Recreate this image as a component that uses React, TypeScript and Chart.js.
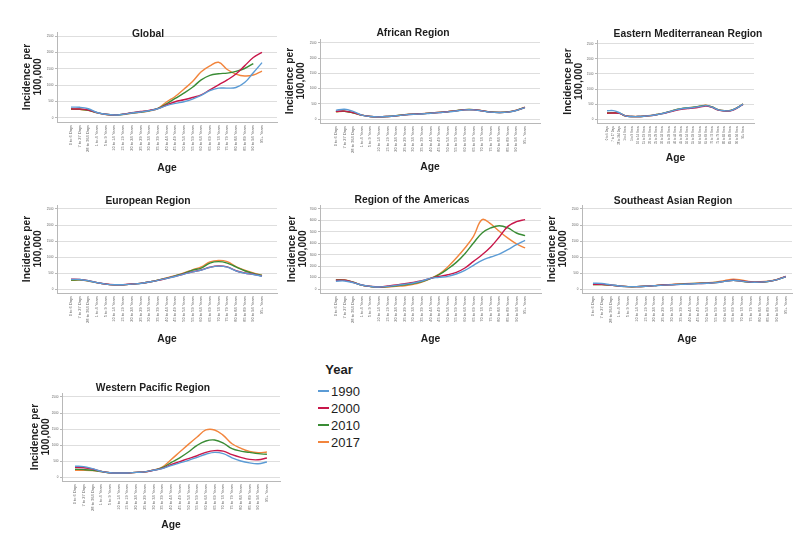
import React, { useEffect, useRef } from 'react';
import { Chart, registerables } from 'chart.js';

Chart.register(...registerables);

// ---------------- DATA ----------------
const ageGroups = [
  '0 to 6 Days', '7 to 27 Days', '28 to 364 Days', '1 to 4 Years', '5 to 9 Years',
  '10 to 14 Years', '15 to 19 Years', '20 to 24 Years', '25 to 29 Years', '30 to 34 Years',
  '35 to 39 Years', '40 to 44 Years', '45 to 49 Years', '50 to 54 Years', '55 to 59 Years',
  '60 to 64 Years', '65 to 69 Years', '70 to 74 Years', '75 to 79 Years', '80 to 84 Years',
  '85 to 89 Years', '90 to 94 Years', '95+ Years',
];
const years = ['1990', '2000', '2010', '2017'];

const yTicksStandard = [0, 500, 1000, 1500, 2000, 2500];
const yTicksAmericas = [0, 500, 1000, 1500, 2000, 2500, 3000, 3500, 4000, 4500, 5000, 5500, 6000, 6500, 7000];

const global1990 = [330, 325, 280, 165, 110, 90, 110, 150, 180, 220, 280, 375, 445, 495, 575, 685, 835, 910, 910, 930, 1080, 1380, 1690];
const global2000 = [275, 270, 240, 160, 110, 90, 115, 160, 195, 230, 285, 395, 495, 555, 625, 705, 857, 1010, 1160, 1340, 1590, 1845, 2000];
const global2010 = [270, 265, 235, 160, 110, 90, 110, 150, 180, 220, 290, 430, 595, 756, 937, 1160, 1300, 1350, 1370, 1420, 1510, 1660, null];
const global2017 = [265, 260, 230, 155, 105, 88, 105, 140, 170, 210, 285, 485, 655, 877, 1110, 1410, 1590, 1700, 1480, 1340, 1280, 1310, 1430];

const african1990 = [290, 325, 255, 135, 88, 77, 88, 110, 140, 160, 172, 195, 215, 238, 270, 305, 305, 272, 230, 218, 230, 285, 380];
const african2000 = [255, 265, 215, 133, 88, 77, 88, 110, 142, 163, 175, 198, 220, 242, 275, 308, 308, 275, 232, 220, 232, 288, 385];
const african2010 = [250, 260, 212, 132, 87, 77, 88, 112, 144, 166, 177, 200, 222, 244, 278, 312, 312, 277, 233, 221, 233, 290, 388];
const african2017 = [245, 255, 210, 132, 87, 78, 90, 114, 146, 168, 180, 202, 224, 246, 280, 314, 314, 279, 235, 223, 235, 292, 390];

const emr1990 = [280, 285, 215, 110, 90, 88, 98, 118, 150, 190, 245, 300, 345, 370, 390, 420, 450, 400, 310, 280, 285, 370, 500];
const emr2000 = [200, 205, 195, 108, 90, 88, 98, 118, 150, 185, 235, 285, 325, 350, 370, 400, 435, 390, 300, 270, 280, 365, 495];
const emr2010 = [205, 210, 200, 110, 90, 88, 100, 120, 155, 192, 248, 305, 348, 375, 395, 428, 458, 405, 312, 282, 290, 375, 505];
const emr2017 = [210, 215, 200, 110, 92, 90, 102, 122, 158, 195, 250, 310, 352, 380, 400, 432, 462, 410, 315, 285, 292, 378, 510];

const europe1990 = [300, 298, 258, 198, 153, 133, 133, 153, 173, 218, 268, 328, 392, 465, 535, 590, 675, 715, 685, 565, 495, 455, 400];
const europe2000 = [310, 300, 260, 200, 155, 135, 135, 155, 175, 220, 270, 330, 395, 470, 540, 595, 680, 720, 690, 570, 500, 460, 405];
const europe2010 = [280, 285, 255, 198, 153, 132, 133, 153, 175, 220, 275, 340, 410, 490, 590, 655, 810, 855, 810, 690, 570, 490, 425];
const europe2017 = [270, 280, 252, 196, 152, 130, 132, 152, 175, 222, 278, 345, 420, 500, 600, 690, 845, 895, 855, 700, 585, 500, 435];

const americas1990 = [680, 700, 560, 350, 230, 175, 230, 320, 420, 530, 700, 930, 1020, 1110, 1310, 1630, 2070, 2510, 2800, 3060, 3440, 3880, 4260];
const americas2000 = [760, 760, 580, 350, 230, 175, 260, 350, 470, 580, 730, 930, 1110, 1250, 1460, 1840, 2420, 3000, 3675, 4550, 5480, 5890, 6070];
const americas2010 = [800, 780, 590, 340, 220, 170, 210, 280, 370, 480, 650, 900, 1250, 1750, 2330, 3090, 4025, 4900, 5340, 5540, 5340, 4900, 4670];
const americas2017 = [820, 800, 600, 340, 215, 160, 175, 230, 290, 410, 610, 930, 1310, 1925, 2710, 3590, 4610, 6070, 5700, 5050, 4450, 3950, 3590];

const seAsia1990 = [180, 172, 130, 95, 75, 75, 85, 103, 122, 132, 143, 158, 168, 178, 198, 238, 270, 245, 215, 215, 237, 292, 385];
const seAsia2000 = [145, 145, 125, 95, 75, 75, 86, 105, 125, 135, 145, 160, 170, 180, 200, 240, 272, 248, 218, 218, 240, 295, 390];
const seAsia2010 = [140, 140, 122, 93, 74, 74, 86, 106, 127, 138, 150, 165, 175, 185, 203, 240, 270, 240, 210, 210, 235, 292, 388];
const seAsia2017 = [138, 138, 120, 92, 73, 73, 86, 107, 130, 142, 155, 170, 182, 193, 215, 262, 305, 275, 230, 228, 245, 298, 392];

const wpac1990 = [335, 325, 260, 175, 135, 125, 125, 145, 160, 210, 260, 355, 440, 520, 615, 710, 770, 730, 600, 500, 440, 415, 470];
const wpac2000 = [300, 290, 250, 175, 135, 125, 125, 145, 160, 210, 270, 385, 480, 575, 665, 770, 825, 810, 700, 615, 550, 540, 595];
const wpac2010 = [240, 230, 210, 170, 135, 125, 125, 145, 160, 215, 290, 450, 600, 780, 990, 1125, 1155, 1060, 885, 810, 770, 730, 710];
const wpac2017 = [210, 210, 200, 170, 135, 125, 125, 145, 160, 220, 310, 540, 780, 1020, 1250, 1470, 1470, 1300, 1040, 900, 800, 760, 780];

// ---------------- STYLE ----------------
const FONT = '"Liberation Sans", Arial, Helvetica, sans-serif';
const yearColors = ['#5b9bd5', '#c8174a', '#3a8c35', '#f2853d'];
const textColor = '#1e1e1e';
const gridColor = '#dedede';
const axisColor = '#b8b8b8';
const tickColor = '#666666';

type Spec = {
  title: string;
  series: (number | null)[][];
  yTicks: number[];
  plotL: number; plotR: number; plotT: number; plotB: number;
  xMin: number; xMax: number;
  titleX: number; titleY: number;
  yTitleX: number; ageY: number;
  xFont: number;
};

const panels: Spec[] = [
  { title: 'Global', series: [global1990, global2000, global2010, global2017], yTicks: yTicksStandard,
    plotL: 57, plotR: 277, plotT: 32, plotB: 122, xMin: -1.61, xMax: 23.73, titleX: 148, titleY: 34, yTitleX: 27, ageY: 168, xFont: 4 },
  { title: 'African Region', series: [african1990, african2000, african2010, african2017], yTicks: yTicksStandard,
    plotL: 320, plotR: 540, plotT: 39, plotB: 123, xMin: -1.85, xMax: 23.75, titleX: 413, titleY: 33, yTitleX: 290, ageY: 167, xFont: 4 },
  { title: 'Eastern Mediterranean Region', series: [emr1990, emr2000, emr2010, emr2017], yTicks: yTicksStandard,
    plotL: 597, plotR: 754, plotT: 40, plotB: 123, xMin: -1.62, xMax: 23.78, titleX: 688, titleY: 34, yTitleX: 568, ageY: 158, xFont: 2.8 },
  { title: 'European Region', series: [europe1990, europe2000, europe2010, europe2017], yTicks: yTicksStandard,
    plotL: 57, plotR: 277, plotT: 205, plotB: 293, xMin: -1.61, xMax: 23.73, titleX: 148, titleY: 201, yTitleX: 27, ageY: 339, xFont: 4 },
  { title: 'Region of the Americas', series: [americas1990, americas2000, americas2010, americas2017], yTicks: yTicksAmericas,
    plotL: 320, plotR: 541, plotT: 205, plotB: 293, xMin: -1.85, xMax: 23.85, titleX: 412, titleY: 200, yTitleX: 292, ageY: 339, xFont: 4 },
  { title: 'Southeast Asian Region', series: [seAsia1990, seAsia2000, seAsia2010, seAsia2017], yTicks: yTicksStandard,
    plotL: 582, plotR: 792, plotT: 205, plotB: 293, xMin: -1.25, xMax: 22.7, titleX: 673, titleY: 201, yTitleX: 552, ageY: 339, xFont: 4 },
  { title: 'Western Pacific Region', series: [wpac1990, wpac2000, wpac2010, wpac2017], yTicks: yTicksStandard,
    plotL: 62, plotR: 280, plotT: 393, plotB: 481, xMin: -1.49, xMax: 23.5, titleX: 153, titleY: 388, yTitleX: 35, ageY: 525, xFont: 4 },
];

const panelTitlePlugin = {
  id: 'panelTitle',
  afterDraw(chart: any, _args: any, opts: any) {
    const ctx = chart.ctx;
    ctx.save();
    ctx.font = `bold 10.3px ${FONT}`;
    ctx.fillStyle = textColor;
    ctx.textAlign = 'center';
    ctx.textBaseline = 'middle';
    ctx.fillText(opts.text, opts.x, opts.y);
    ctx.restore();
  },
};

function Panel({ spec }: { spec: Spec }) {
  const ref = useRef<HTMLCanvasElement>(null);
  const L = spec.yTitleX - 8;
  const T = spec.titleY - 12;
  const R = Math.max(spec.plotR, spec.titleX + 76) + 4;
  const B = spec.ageY + 9;
  const W = R - L;
  const H = B - T;

  useEffect(() => {
    const topTick = spec.yTicks[spec.yTicks.length - 1];
    const chart = new Chart(ref.current as HTMLCanvasElement, {
      type: 'line',
      data: {
        datasets: years.map((yr, k) => ({
          label: yr,
          data: spec.series[k].map((v, i) => ({ x: i, y: v })),
          borderColor: yearColors[k],
          backgroundColor: yearColors[k],
          borderWidth: 1.4,
          pointRadius: 0,
          fill: false,
          tension: 0.4,
          spanGaps: false,
        })) as any,
      },
      options: {
        animation: false,
        responsive: false,
        maintainAspectRatio: false,
        events: [],
        layout: { padding: { top: spec.plotT - T, left: 0, right: R - spec.plotR, bottom: 0 } },
        plugins: {
          legend: { display: false },
          tooltip: { enabled: false },
          title: { display: false },
          panelTitle: { text: spec.title, x: spec.titleX - L, y: spec.titleY - T },
        } as any,
        scales: {
          x: {
            type: 'linear',
            min: spec.xMin,
            max: spec.xMax,
            afterBuildTicks: (s: any) => { s.ticks = ageGroups.map((_, i) => ({ value: i })); },
            afterFit: (s: any) => { s.height = B - spec.plotB; },
            grid: { display: false, drawTicks: false },
            border: { display: true, color: axisColor, width: 1 },
            ticks: {
              autoSkip: false,
              minRotation: 90,
              maxRotation: 90,
              padding: 3,
              color: tickColor,
              font: { size: spec.xFont, family: FONT },
              callback: (v: any) => ageGroups[v as number] ?? '',
            },
            title: {
              display: true,
              text: 'Age',
              color: textColor,
              font: { size: 10.3, weight: 'bold', family: FONT, lineHeight: 1.1 },
              padding: { top: 0, bottom: 9 - 5.66 },
            },
          },
          y: {
            type: 'linear',
            min: -0.05 * topTick,
            max: 1.05 * topTick,
            afterBuildTicks: (s: any) => { s.ticks = spec.yTicks.map((v) => ({ value: v })); },
            afterFit: (s: any) => { s.width = spec.plotL - L; },
            grid: { color: gridColor, lineWidth: 1, drawTicks: true, tickLength: 2, tickColor: axisColor },
            border: { display: true, color: axisColor, width: 1 },
            ticks: {
              padding: 1.5,
              color: tickColor,
              font: { size: 3, family: FONT },
              callback: (v: any) => String(v),
            },
            title: {
              display: true,
              text: ['Incidence per', '100,000'],
              color: textColor,
              font: { size: 10.3, weight: 'bold', family: FONT, lineHeight: 1.07 },
              padding: { top: 8 - 5.5, bottom: 0 },
            },
          },
        },
      } as any,
      plugins: [panelTitlePlugin as any],
    });
    return () => chart.destroy();
  }, []);

  return (
    <canvas
      ref={ref}
      width={W}
      height={H}
      style={{ position: 'absolute', left: L, top: T, width: W, height: H }}
    />
  );
}

function Legend() {
  const itemY = [392, 409, 426, 442.5];
  return (
    <>
      <div style={{ position: 'absolute', left: 299, top: 362, width: 80, textAlign: 'center', font: `bold 13px ${FONT}`, color: textColor, lineHeight: '16px' }}>
        Year
      </div>
      {years.map((yr, k) => (
        <React.Fragment key={yr}>
          <div style={{ position: 'absolute', left: 318, top: itemY[k] - 2, width: 11, height: 2, background: yearColors[k] }} />
          <div style={{ position: 'absolute', left: 331, top: itemY[k] - 8, font: `13px ${FONT}`, color: textColor, lineHeight: '16px' }}>
            {yr}
          </div>
        </React.Fragment>
      ))}
    </>
  );
}

export default function App() {
  return (
    <div style={{ position: 'absolute', left: 0, top: 0, width: 800, height: 539, background: '#ffffff', overflow: 'hidden' }}>
      {panels.map((p) => (
        <Panel key={p.title} spec={p} />
      ))}
      <Legend />
    </div>
  );
}
